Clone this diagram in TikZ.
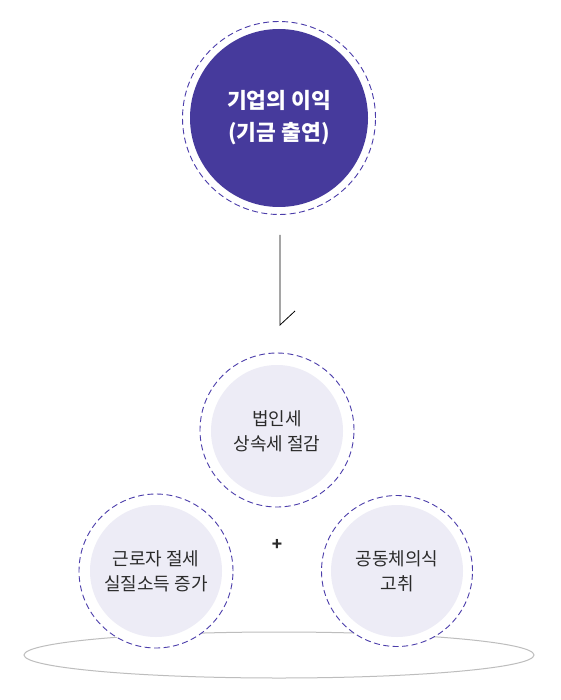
\documentclass[tikz,border=0pt]{standalone}
\usepackage{fontspec}
\setmainfont{Noto Sans CJK KR}
\definecolor{mainpurple}{HTML}{463A9C}
\definecolor{ringcol}{HTML}{4B3DAA}
\definecolor{lightfill}{HTML}{EDECF6}
\definecolor{txtgray}{HTML}{2B2B2B}
\definecolor{ellgray}{HTML}{BDBDBD}
\begin{document}
\begin{tikzpicture}[x=1pt,y=-1pt,
  ring/.style={circle,draw=ringcol,line width=0.9pt,dash pattern=on 6pt off 3.5pt,fill=white,inner sep=0pt},
  smallcirc/.style={circle,fill=lightfill,minimum size=132pt,inner sep=0pt,align=center,font=\fontsize{18}{25}\selectfont,text=txtgray},
  bigcirc/.style={circle,fill=mainpurple,minimum size=178pt,inner sep=0pt,align=center,font=\fontsize{21.5}{32}\selectfont\bfseries,text=white}]
\useasboundingbox (0,0) rectangle (560,700);
\fill[white] (0,0) rectangle (560,700);
% base ellipse
\draw[ellgray,line width=1pt] (279,655) ellipse [x radius=255, y radius=23];
% top
\node[ring,minimum size=193pt] (topring) at (279,118) {};
\node[bigcirc] (top) at (279,118) {기업의 이익\\(기금 출연)};
% connector
\coordinate (a1) at (280,235);
\coordinate (a2) at (280,325);
\coordinate (a3) at (295,311);
\draw[black,line width=0.8pt] (a1) -- (a2) -- (a3);
% middle
\node[ring,minimum size=154pt] (midring) at (277,430) {};
\node[smallcirc] (mid) at (277,431) {법인세\\상속세 절감};
% left
\node[ring,minimum size=154pt] (leftring) at (156,571) {};
\node[smallcirc] (left) at (156,571) {근로자 절세\\실질소득 증가};
% right
\node[ring,minimum size=151pt] (rightring) at (397,571) {};
\node[smallcirc] (right) at (397,571) {공동체의식\\고취};
% plus
\node[font=\fontsize{17}{17}\selectfont\bfseries,text=txtgray] (plus) at (277,545) {+};
\end{tikzpicture}
\end{document}
